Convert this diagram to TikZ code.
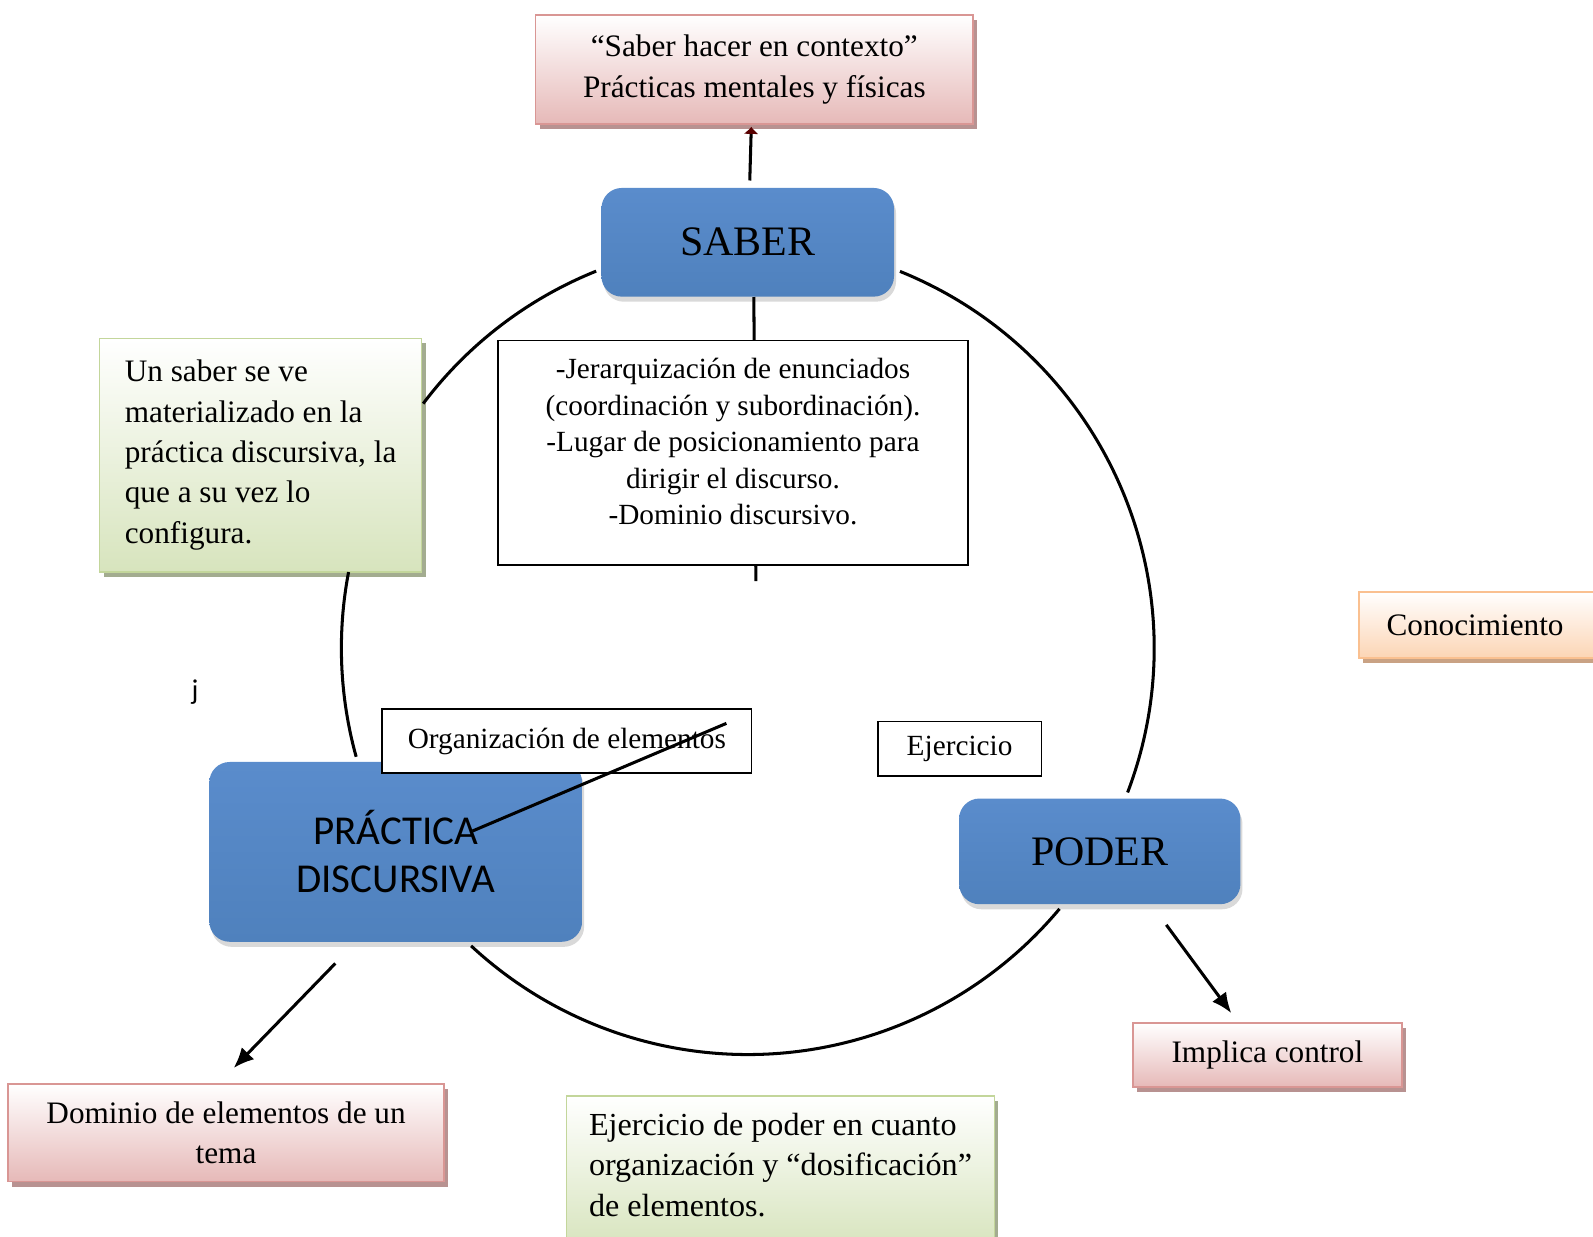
\documentclass[tikz,border=0pt]{standalone}
\usepackage{fontspec}
\setmainfont{Liberation Serif}
\newfontfamily\calibri{Carlito}
\usetikzlibrary{arrows.meta,shadows}

\definecolor{boxblue}{HTML}{4F81BD}
\definecolor{blueup}{HTML}{5A8CCC}
\definecolor{pinkline}{HTML}{D99694}
\definecolor{pinkfill}{HTML}{E6B9B8}
\definecolor{pinkshadow}{HTML}{B89291}
\definecolor{greenline}{HTML}{C3D69B}
\definecolor{greenfill}{HTML}{D7E4BD}
\definecolor{greenshadow}{HTML}{A3AC90}
\definecolor{orangeline}{HTML}{FAC090}
\definecolor{orangefill}{HTML}{FCD5B5}
\definecolor{orangeshadow}{HTML}{C9A284}

\begin{document}
\begin{tikzpicture}[x=0.02cm, y=-0.02cm,
    bluebox/.style={rounded corners=0.4cm, top color=blueup, bottom color=boxblue,
      drop shadow={shadow xshift=0.04cm, shadow yshift=-0.1cm, opacity=0.3},
      align=center, inner sep=0pt},
    softbox/.style={draw=#1line, line width=0.9pt, top color=white, bottom color=#1fill,
      drop shadow={shadow xshift=0.08cm, shadow yshift=-0.1cm, fill=#1shadow, opacity=1},
      inner sep=0pt},
    plainbox/.style={draw, line width=0.8pt, fill=white, inner sep=0pt},
    link/.style={line width=1.7pt},
    big/.style={font=\fontsize{17.5}{22.6}\selectfont},
    small/.style={font=\fontsize{16.4}{20.5}\selectfont}]
  \useasboundingbox (0,0) rectangle (1568,1217);
  \coordinate (cc) at (736,638);

  \node[softbox=pink, big, align=center, minimum width=8.62cm, minimum height=2.14cm] (ctx) at (742.5,68.5)
    {“Saber hacer en contexto”\\Prácticas mentales y físicas};
  \node[bluebox, minimum width=5.76cm, minimum height=2.14cm, font=\fontsize{23.5}{28}\selectfont] (saber) at (736,238.5) {SABER};

  \coordinate (stub) at (744,572);
  \draw[link] ([xshift=0.12cm]saber.south) -- (stub);
  \node[plainbox, small, align=center, minimum width=9.26cm, minimum height=4.42cm] (rasgos) at (721.5,445.5)
    {-Jerarquización de enunciados\\(coordinación y subordinación).\\-Lugar de posicionamiento para\\dirigir el discurso.\\-Dominio discursivo.\\[-0.28cm]};

  \node[softbox=green, big, align=left, minimum width=6.34cm, minimum height=4.6cm] (nota) at (256.5,448)
    {Un saber se ve\\materializado en la\\práctica discursiva, la\\que a su vez lo\\configura.};
  \node[font=\calibri\fontsize{16}{19}\selectfont] (jota) at (192,681) {j};

  \node[bluebox, minimum width=7.34cm, minimum height=3.54cm, font=\calibri\fontsize{23}{26.8}\selectfont] (practica) at (389.5,838.5)
    {PRÁCTICA\\DISCURSIVA};
  \node[plainbox, small, minimum width=7.28cm, minimum height=1.26cm] (organiza) at (558,729.5) {Organización de elementos};
  \node[plainbox, small, minimum width=3.22cm, minimum height=1.08cm] (ejercicio) at (944.5,737) {Ejercicio};
  \node[bluebox, minimum width=5.54cm, minimum height=2.08cm, font=\fontsize{23.5}{28}\selectfont] (poder) at (1082.5,838) {PODER};

  \node[softbox=orange, big, align=left, text width=4.22cm, inner xsep=0.54cm, minimum height=1.3cm, anchor=west] (conoc) at (1337,615) {Conocimiento};
  \node[softbox=pink, big, minimum width=5.3cm, minimum height=1.26cm] (control) at (1247.5,1038.5) {Implica control};
  \node[softbox=pink, big, align=center, minimum width=8.58cm, minimum height=1.92cm] (dominio) at (222.5,1115)
    {Dominio de elementos de un\\tema};
  \node[softbox=green, align=left, font=\fontsize{18}{22.6}\selectfont, minimum width=8.42cm, minimum height=3.0cm, anchor=north west] (ejpoder) at (557,1078)
    {Ejercicio de poder en cuanto\\organización y “dosificación”\\de elementos.\\[-0.5cm]};

  \draw[link] (cc) ++(-111.9:400) arc[start angle=-111.9, end angle=-143, radius=400];
  \draw[link] (cc) ++(-169.2:400) arc[start angle=-169.2, end angle=-195.5, radius=400];
  \draw[link] (cc) ++(-227.1:400) arc[start angle=-227.1, end angle=-320.1, radius=400];
  \draw[link] (cc) ++(-339.2:400) arc[start angle=-339.2, end angle=-428, radius=400];

  \draw[link, -{Latex[length=1.4mm, width=3mm, color=red!35!black]}] ([xshift=0.04cm, yshift=0.14cm]saber.north) -- ([xshift=-0.06cm, yshift=-0.04cm]ctx.south);
  \draw[link] ([shift={(157,-17.5)}]organiza.center) -- ([shift={(75.5,-20.5)}]practica.center);
  \draw[link, -{Latex[length=4mm, width=3.4mm]}] ([shift={(-59.5,21)}]practica.south) -- ([shift={(7.5,-15)}]dominio.north);
  \draw[link, -{Latex[length=4mm, width=3.4mm]}] ([shift={(65.5,20)}]poder.south) -- ([shift={(-35.5,-9)}]control.north);
\end{tikzpicture}
\end{document}
